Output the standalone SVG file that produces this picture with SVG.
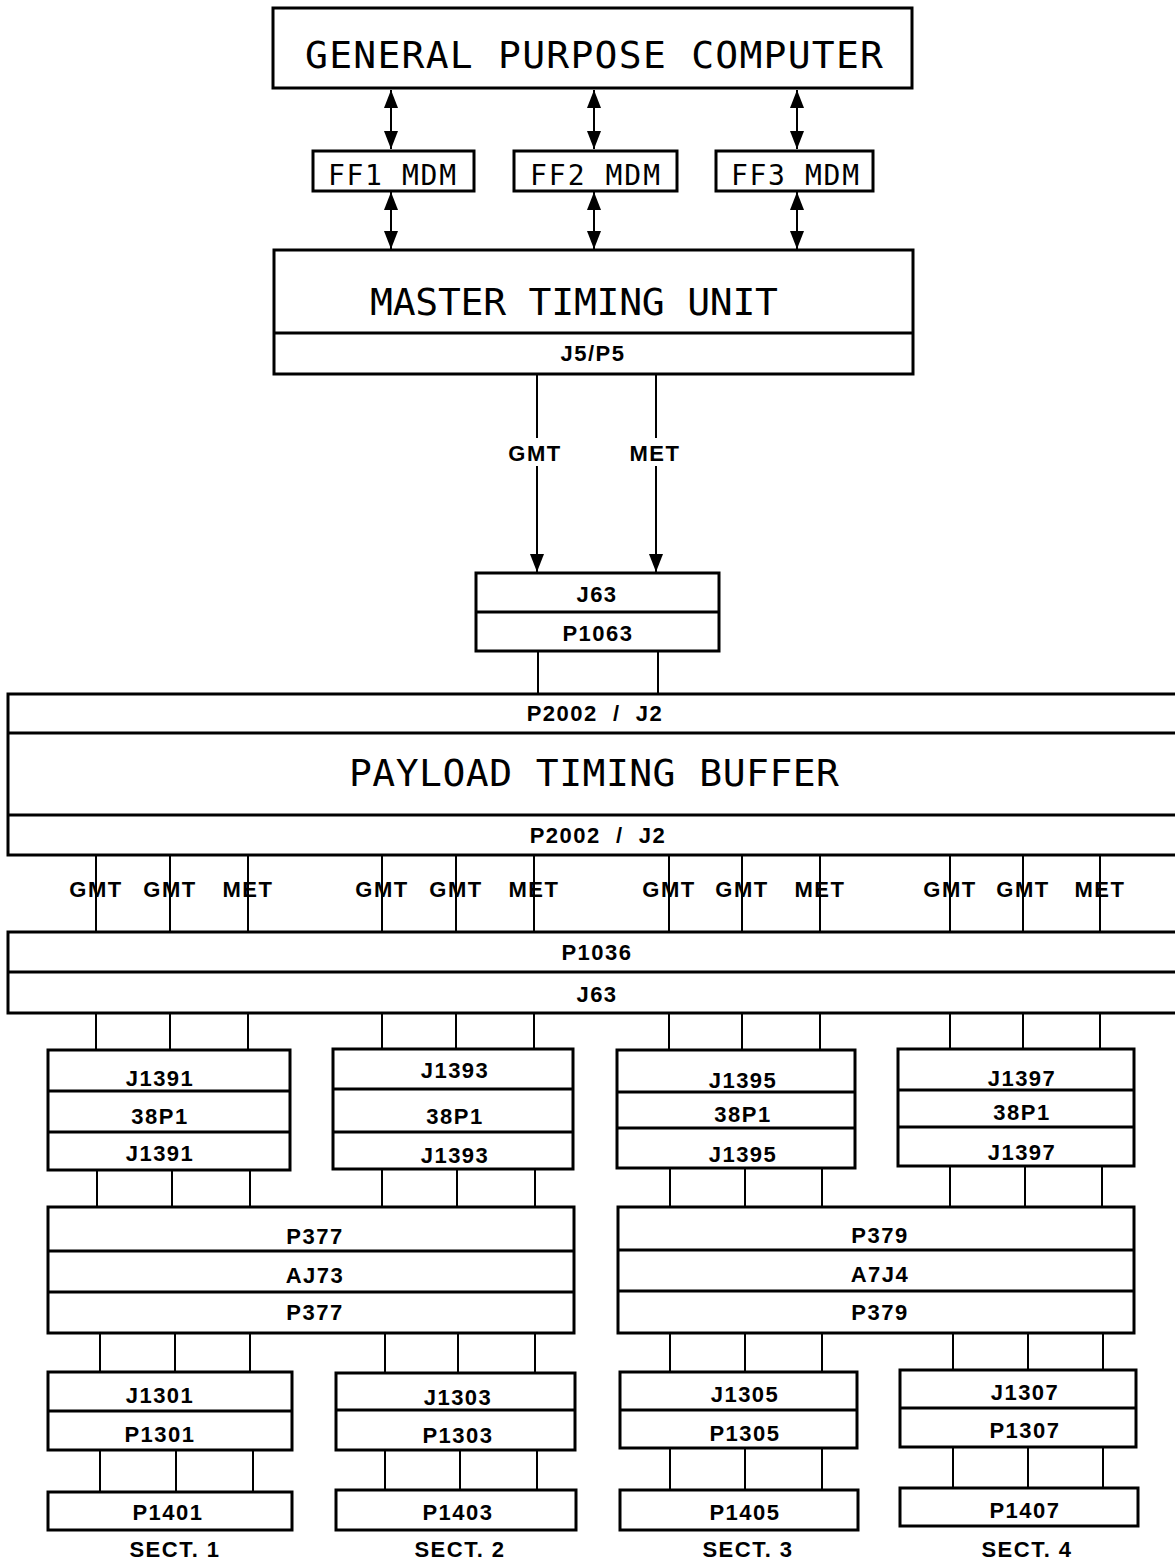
<svg xmlns="http://www.w3.org/2000/svg" width="1175" height="1560" viewBox="0 0 1175 1560">
<style>
.box{fill:#fff;stroke:#000;stroke-width:3}
.dv{stroke:#000;stroke-width:3}
.ln{stroke:#000;stroke-width:2;fill:none}
.big{font-family:"DejaVu Sans Mono","Liberation Mono",monospace;font-size:38px;text-anchor:middle;fill:#000}
.mid{font-family:"DejaVu Sans Mono","Liberation Mono",monospace;font-size:28px;text-anchor:middle;fill:#000}
.sm{font-family:"Liberation Sans","DejaVu Sans",sans-serif;font-weight:bold;font-size:22px;letter-spacing:1.5px;text-anchor:middle;fill:#000}
</style>
<defs>
<marker id="ah" viewBox="0 0 18 14" refX="18" refY="7" markerWidth="18" markerHeight="14" markerUnits="userSpaceOnUse" orient="auto-start-reverse">
<path d="M0,0 L18,7 L0,14 Z" fill="#000"/>
</marker>
</defs>

<g id="connectors">
<line class="ln" x1="391" y1="90" x2="391" y2="149" marker-start="url(#ah)" marker-end="url(#ah)"/>
<line class="ln" x1="594" y1="90" x2="594" y2="149" marker-start="url(#ah)" marker-end="url(#ah)"/>
<line class="ln" x1="797" y1="90" x2="797" y2="149" marker-start="url(#ah)" marker-end="url(#ah)"/>
<line class="ln" x1="391" y1="192" x2="391" y2="249" marker-start="url(#ah)" marker-end="url(#ah)"/>
<line class="ln" x1="594" y1="192" x2="594" y2="249" marker-start="url(#ah)" marker-end="url(#ah)"/>
<line class="ln" x1="797" y1="192" x2="797" y2="249" marker-start="url(#ah)" marker-end="url(#ah)"/>
<line class="ln" x1="537" y1="374" x2="537" y2="438"/>
<line class="ln" x1="537" y1="466" x2="537" y2="572" marker-end="url(#ah)"/>
<line class="ln" x1="656" y1="374" x2="656" y2="438"/>
<line class="ln" x1="656" y1="466" x2="656" y2="572" marker-end="url(#ah)"/>
<text class="sm" x="535" y="461">GMT</text>
<text class="sm" x="655" y="461">MET</text>
<line class="ln" x1="538" y1="651" x2="538" y2="694"/>
<line class="ln" x1="658" y1="651" x2="658" y2="694"/>
<path class="ln" d="M96,855V932M170,855V932M248,855V932M382,855V932M456,855V932M534,855V932M669,855V932M742,855V932M820,855V932M950,855V932M1023,855V932M1100,855V932"/>
<text class="sm" x="96" y="897">GMT</text>
<text class="sm" x="170" y="897">GMT</text>
<text class="sm" x="248" y="897">MET</text>
<text class="sm" x="382" y="897">GMT</text>
<text class="sm" x="456" y="897">GMT</text>
<text class="sm" x="534" y="897">MET</text>
<text class="sm" x="669" y="897">GMT</text>
<text class="sm" x="742" y="897">GMT</text>
<text class="sm" x="820" y="897">MET</text>
<text class="sm" x="950" y="897">GMT</text>
<text class="sm" x="1023" y="897">GMT</text>
<text class="sm" x="1100" y="897">MET</text>
<path class="ln" d="M96,1013V1050M170,1013V1050M248,1013V1050M382,1013V1050M456,1013V1050M534,1013V1050M669,1013V1050M742,1013V1050M820,1013V1050M950,1013V1050M1023,1013V1050M1100,1013V1050"/>
<path class="ln" d="M97,1170V1207M172,1170V1207M250,1170V1207M382,1169V1207M457,1169V1207M535,1169V1207M670,1168V1207M745,1168V1207M822,1168V1207M950,1166V1207M1025,1166V1207M1102,1166V1207"/>
<path class="ln" d="M100,1333V1372M175,1333V1372M250,1333V1372M385,1333V1373M458,1333V1373M535,1333V1373M670,1333V1372M745,1333V1372M822,1333V1372M953,1333V1370M1028,1333V1370M1103,1333V1370"/>
<path class="ln" d="M100,1450V1492M176,1450V1492M253,1450V1492M385,1450V1490M460,1450V1490M537,1450V1490M670,1448V1490M745,1448V1490M822,1448V1490M953,1447V1488M1028,1447V1488M1103,1447V1488"/>
</g>

<g id="gpc">
<rect class="box" x="273" y="8" width="639" height="80"/>
<text class="big" x="594" y="68" font-size="39" textLength="578" lengthAdjust="spacing">GENERAL PURPOSE COMPUTER</text>
</g>
<g id="ff1"><rect class="box" x="313" y="151" width="161" height="40"/><text class="mid" x="392" y="185" textLength="128" lengthAdjust="spacing">FF1 MDM</text></g>
<g id="ff2"><rect class="box" x="514" y="151" width="163" height="40"/><text class="mid" x="595" y="185" textLength="130" lengthAdjust="spacing">FF2 MDM</text></g>
<g id="ff3"><rect class="box" x="716" y="151" width="157" height="40"/><text class="mid" x="795" y="185" textLength="128" lengthAdjust="spacing">FF3 MDM</text></g>

<g id="mtu">
<rect class="box" x="274" y="250" width="639" height="124"/>
<line class="dv" x1="274" y1="333" x2="913" y2="333"/>
<text class="big" x="574" y="315" textLength="408" lengthAdjust="spacing">MASTER TIMING UNIT</text>
<text class="sm" x="593" y="361">J5/P5</text>
</g>

<g id="j63">
<rect class="box" x="476" y="573" width="243" height="78"/>
<line class="dv" x1="476" y1="612" x2="719" y2="612"/>
<text class="sm" x="597" y="602">J63</text>
<text class="sm" x="598" y="641">P1063</text>
</g>

<g id="ptb">
<rect class="box" x="8" y="694" width="1180" height="161"/>
<line class="dv" x1="8" y1="733" x2="1175" y2="733"/>
<line class="dv" x1="8" y1="815" x2="1175" y2="815"/>
<text class="sm" x="595" y="721" xml:space="preserve">P2002  /  J2</text>
<text class="big" x="594" y="786" textLength="490" lengthAdjust="spacing">PAYLOAD TIMING BUFFER</text>
<text class="sm" x="598" y="843" xml:space="preserve">P2002  /  J2</text>
</g>

<g id="p1036">
<rect class="box" x="8" y="932" width="1180" height="81"/>
<line class="dv" x1="8" y1="972" x2="1175" y2="972"/>
<text class="sm" x="597" y="960">P1036</text>
<text class="sm" x="597" y="1002">J63</text>
</g>

<g id="j1391">
<rect class="box" x="48" y="1050" width="242" height="120"/>
<line class="dv" x1="48" y1="1091" x2="290" y2="1091"/>
<line class="dv" x1="48" y1="1132" x2="290" y2="1132"/>
<text class="sm" x="160" y="1086">J1391</text>
<text class="sm" x="160" y="1124">38P1</text>
<text class="sm" x="160" y="1161">J1391</text>
</g>
<g id="j1393">
<rect class="box" x="333" y="1049" width="240" height="120"/>
<line class="dv" x1="333" y1="1089" x2="573" y2="1089"/>
<line class="dv" x1="333" y1="1132" x2="573" y2="1132"/>
<text class="sm" x="455" y="1078">J1393</text>
<text class="sm" x="455" y="1124">38P1</text>
<text class="sm" x="455" y="1163">J1393</text>
</g>
<g id="j1395">
<rect class="box" x="617" y="1050" width="238" height="118"/>
<line class="dv" x1="617" y1="1092" x2="855" y2="1092"/>
<line class="dv" x1="617" y1="1128" x2="855" y2="1128"/>
<text class="sm" x="743" y="1088">J1395</text>
<text class="sm" x="743" y="1122">38P1</text>
<text class="sm" x="743" y="1162">J1395</text>
</g>
<g id="j1397">
<rect class="box" x="898" y="1049" width="236" height="117"/>
<line class="dv" x1="898" y1="1090" x2="1134" y2="1090"/>
<line class="dv" x1="898" y1="1127" x2="1134" y2="1127"/>
<text class="sm" x="1022" y="1086">J1397</text>
<text class="sm" x="1022" y="1120">38P1</text>
<text class="sm" x="1022" y="1160">J1397</text>
</g>

<g id="p377">
<rect class="box" x="48" y="1207" width="526" height="126"/>
<line class="dv" x1="48" y1="1251" x2="574" y2="1251"/>
<line class="dv" x1="48" y1="1292" x2="574" y2="1292"/>
<text class="sm" x="315" y="1244">P377</text>
<text class="sm" x="315" y="1283">AJ73</text>
<text class="sm" x="315" y="1320">P377</text>
</g>
<g id="p379">
<rect class="box" x="618" y="1207" width="516" height="126"/>
<line class="dv" x1="618" y1="1250" x2="1134" y2="1250"/>
<line class="dv" x1="618" y1="1291" x2="1134" y2="1291"/>
<text class="sm" x="880" y="1243">P379</text>
<text class="sm" x="880" y="1282">A7J4</text>
<text class="sm" x="880" y="1320">P379</text>
</g>

<g id="j1301">
<rect class="box" x="48" y="1372" width="244" height="78"/>
<line class="dv" x1="48" y1="1411" x2="292" y2="1411"/>
<text class="sm" x="160" y="1403">J1301</text>
<text class="sm" x="160" y="1442">P1301</text>
</g>
<g id="j1303">
<rect class="box" x="336" y="1373" width="239" height="77"/>
<line class="dv" x1="336" y1="1410" x2="575" y2="1410"/>
<text class="sm" x="458" y="1405">J1303</text>
<text class="sm" x="458" y="1443">P1303</text>
</g>
<g id="j1305">
<rect class="box" x="620" y="1372" width="237" height="76"/>
<line class="dv" x1="620" y1="1410" x2="857" y2="1410"/>
<text class="sm" x="745" y="1402">J1305</text>
<text class="sm" x="745" y="1441">P1305</text>
</g>
<g id="j1307">
<rect class="box" x="900" y="1370" width="236" height="77"/>
<line class="dv" x1="900" y1="1408" x2="1136" y2="1408"/>
<text class="sm" x="1025" y="1400">J1307</text>
<text class="sm" x="1025" y="1438">P1307</text>
</g>

<g id="p1401"><rect class="box" x="48" y="1492" width="244" height="38"/><text class="sm" x="168" y="1520">P1401</text><text class="sm" x="175" y="1557">SECT. 1</text></g>
<g id="p1403"><rect class="box" x="336" y="1490" width="240" height="40"/><text class="sm" x="458" y="1520">P1403</text><text class="sm" x="460" y="1557">SECT. 2</text></g>
<g id="p1405"><rect class="box" x="620" y="1490" width="238" height="40"/><text class="sm" x="745" y="1520">P1405</text><text class="sm" x="748" y="1557">SECT. 3</text></g>
<g id="p1407"><rect class="box" x="900" y="1488" width="238" height="38"/><text class="sm" x="1025" y="1518">P1407</text><text class="sm" x="1027" y="1557">SECT. 4</text></g>
</svg>
